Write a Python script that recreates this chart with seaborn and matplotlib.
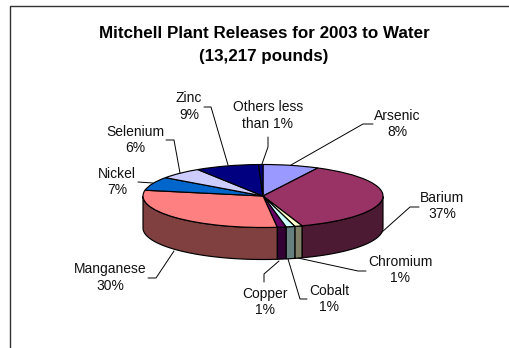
"""Mitchell Plant releases to water, 2003 - pseudo 3D pie."""
import numpy as np
import matplotlib
matplotlib.use("Agg")
import matplotlib.pyplot as plt
import seaborn as sns

W, H = 510, 348

metals = ["Arsenic", "Barium", "Chromium", "Cobalt", "Copper", "Manganese",
          "Nickel", "Selenium", "Zinc", "Others less\nthan 1%"]
shares = [7.6, 37.4, 1.0, 1.2, 1.2, 30.0, 7.0, 6.0, 8.6, 0.6]
share_labels = ["8%", "37%", "1%", "1%", "1%", "30%", "7%", "6%", "9%", ""]
hex_colors = ["#9999FF", "#993366", "#FFFFCC", "#CCFFFF", "#660066", "#FF8080",
              "#0066CC", "#CCCCFF", "#000080", "#000080"]

sns.set_theme(style="white")
plt.rcParams["font.family"] = ["Liberation Sans", "DejaVu Sans"]
palette = sns.color_palette(hex_colors)

fig = plt.figure(figsize=(W / 100, H / 100), dpi=100, facecolor="white")

# pixel overlay for frame, text and leader lines
over = fig.add_axes([0, 0, 1, 1], zorder=3)
over.set_xlim(0, W)
over.set_ylim(H, 0)
over.axis("off")
over.patch.set_alpha(0)

# pie axes: 1 data unit = 120 px across, 31.5 px up
cx, cy, rx, ry, depth = 263, 196, 120, 31.5, 32
pie_ax = fig.add_axes([(cx - rx) / W, 1 - (cy + ry + depth) / H,
                       2 * rx / W, (2 * ry + depth) / H])

# side wall, front half only
drop = depth / ry
edges = 90 - np.cumsum([0] + shares) / sum(shares) * 360
for start, end, col in zip(edges[:-1], edges[1:], palette):
    a = np.mod(start, 360)
    b = a - (start - end)
    t = np.radians(np.linspace(a, b, 60))
    keep = np.sin(t) <= 0
    if not keep.any():
        continue
    x, y = np.cos(t[keep]), np.sin(t[keep])
    pie_ax.fill(np.r_[x, x[::-1]], np.r_[y, y[::-1] - drop],
                color=tuple(c * 0.5 for c in col), ec="black", lw=0.85, clip_on=False)

pie_ax.pie(shares, colors=palette, startangle=90, counterclock=False, radius=1,
           wedgeprops={"edgecolor": "black", "linewidth": 0.85, "clip_on": False})
pie_ax.set_aspect("auto")
pie_ax.set_xlim(-1, 1)
pie_ax.set_ylim(-1 - drop, 1)
pie_ax.axis("off")

# chart frame runs off the right and bottom of the crop
over.plot([10.3, 10.3, W + 2], [H + 2, 5.7, 5.7], color="#333333", lw=1, clip_on=False)

over.text(264, 34, "Mitchell Plant Releases for 2003 to Water", ha="center", va="center",
          fontsize=12.25, fontweight="bold", color="black")
over.text(264, 56, "(13,217 pounds)", ha="center", va="center",
          fontsize=12.25, fontweight="bold", color="black")

# text centre and leader path per label
layout = [
    ((397, 124), [(291, 165), (363, 124), (373, 124)]),
    ((442, 206), [(382, 232), (410, 207), (419, 207)]),
    ((400, 270), [(298, 258), (358, 271), (366, 271)]),
    ((329, 299), [(288, 259), (300, 299), (307, 299)]),
    ((265, 302), [(279, 261), (264, 274), (264, 282)]),
    ((110, 277.5), [(174, 251), (156, 278), (148, 278)]),
    ((117, 182), [(153, 183), (138, 182)]),
    ((135, 140), [(180, 173), (174, 140), (166, 140)]),
    ((189, 106.5), [(228, 165), (211, 107), (204, 107)]),
    ((268, 115.5), [(262, 164), (268, 147), (268, 137)]),
]
for name, pct, (pos, path) in zip(metals, share_labels, layout):
    label = f"{name}\n{pct}" if pct else name
    over.text(pos[0], pos[1], label, ha="center", va="center", fontsize=10,
              color="#111111", linespacing=1.2)
    px, py = zip(*path)
    over.plot(px, py, color="black", lw=0.7)

fig.savefig("out.png", dpi=100)
